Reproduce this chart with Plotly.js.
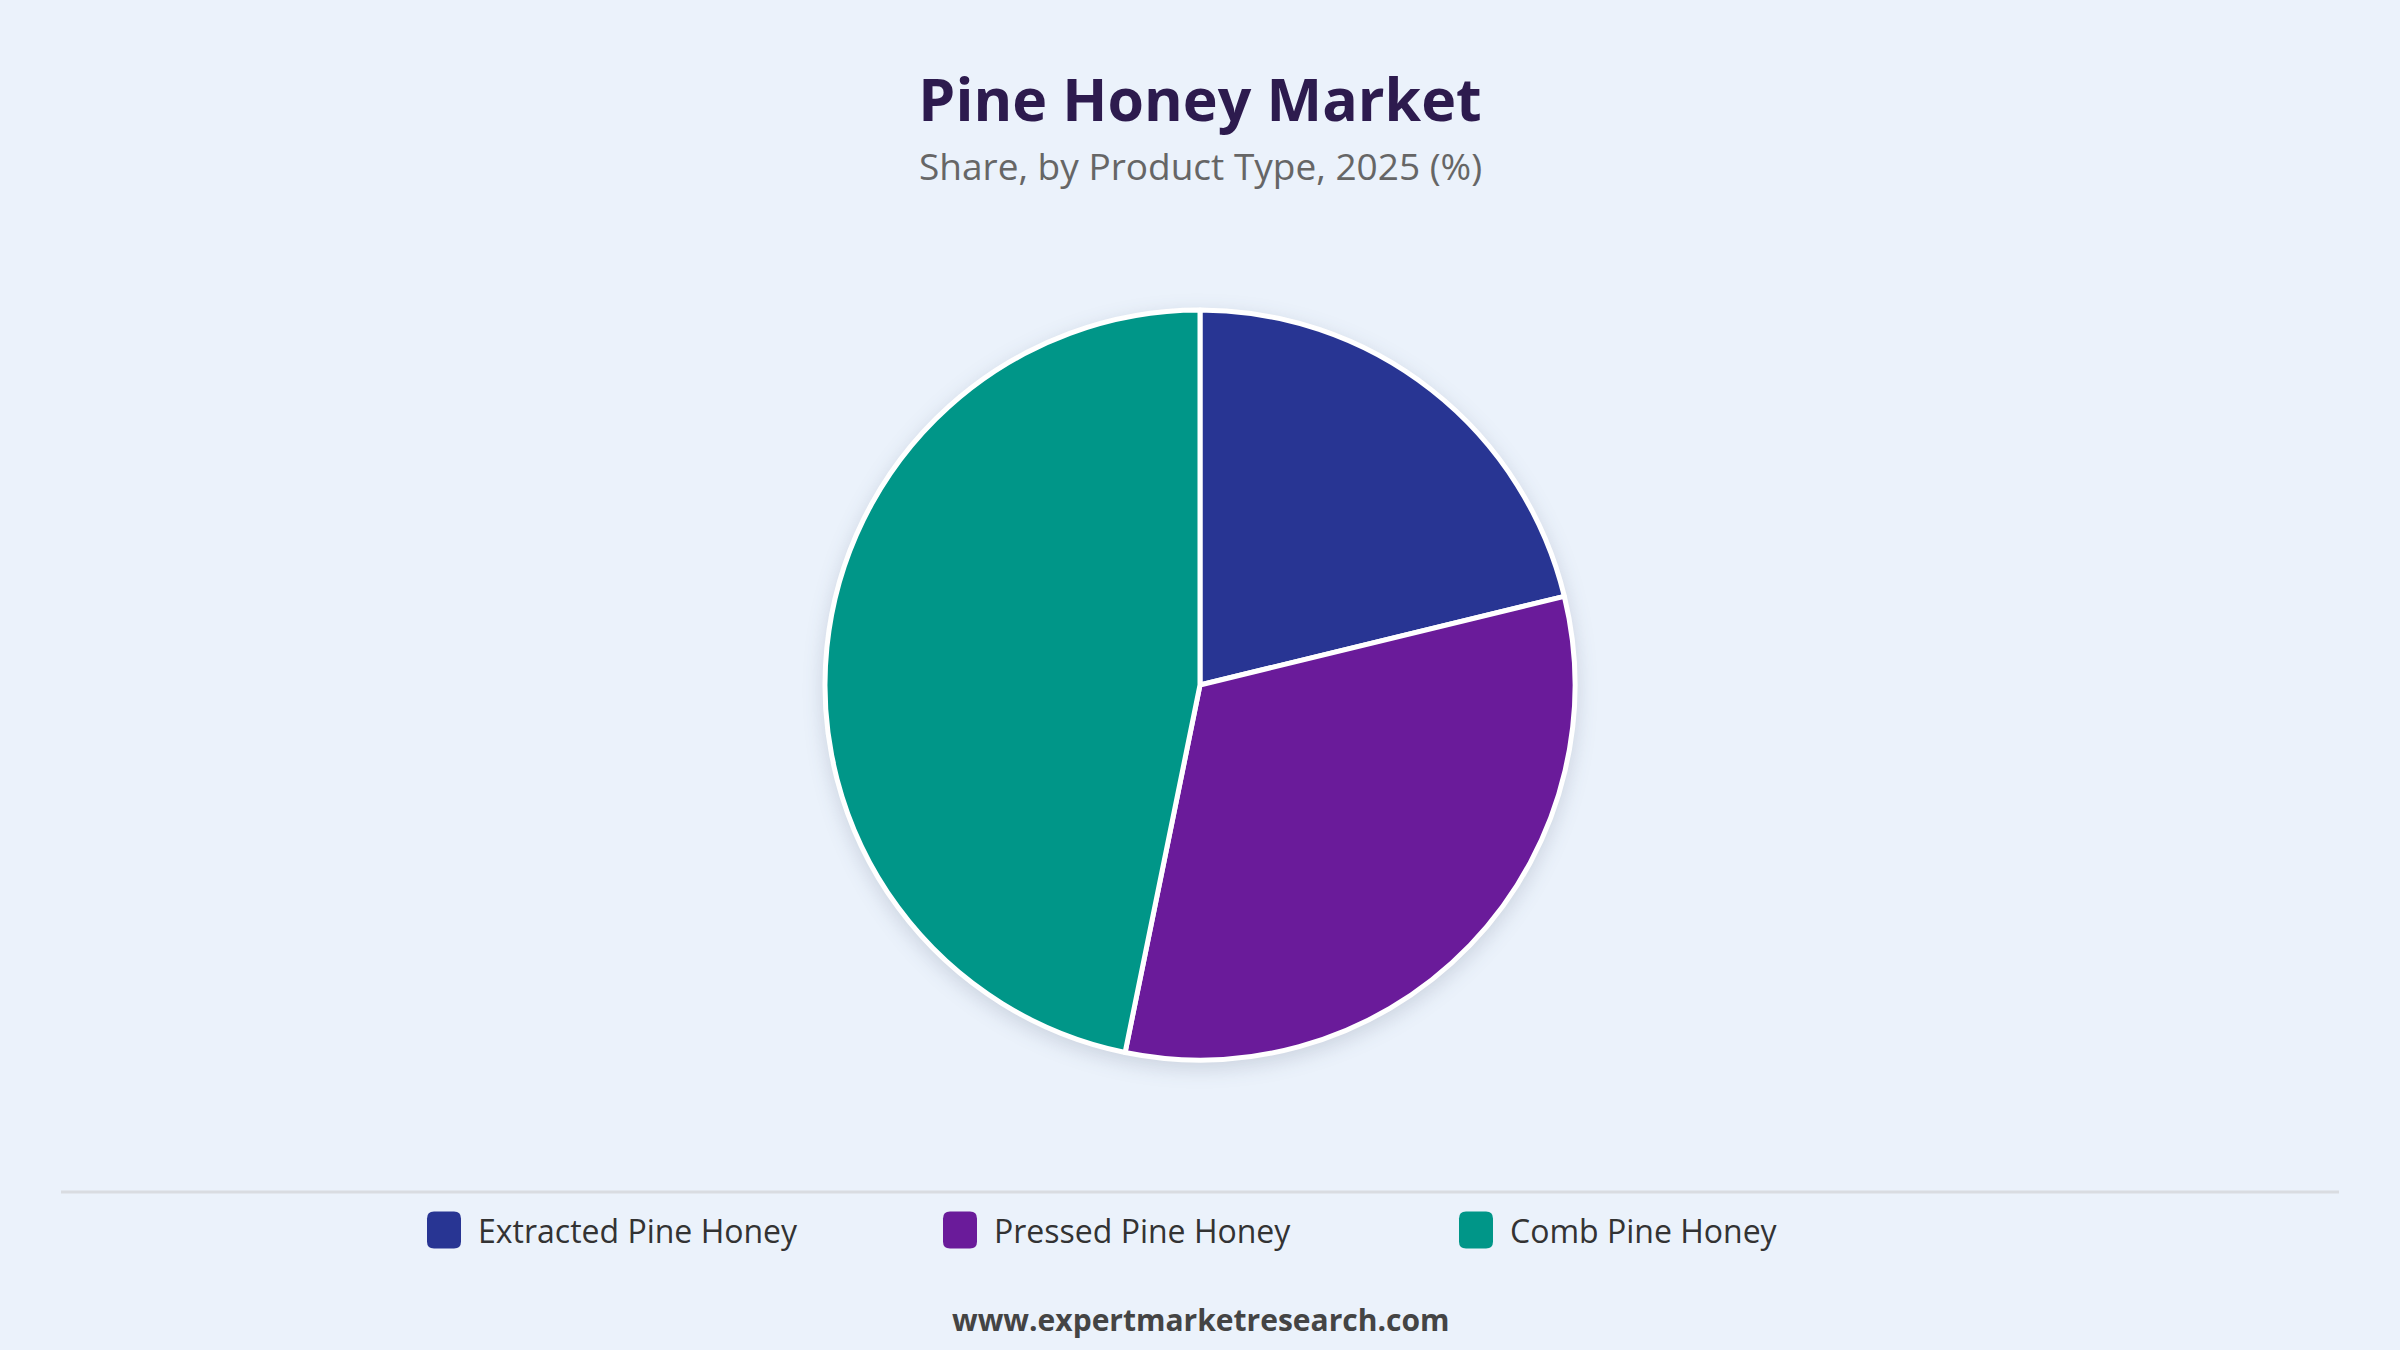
<!DOCTYPE html>
<html>
<head>
<meta charset="utf-8">
<script src="https://cdn.plot.ly/plotly-3.0.1.min.js"></script>
<style>
  html, body { margin: 0; padding: 0; background: #EBF2FB; }
  #chart { width: 2400px; height: 1350px; }
  .pielayer { filter: drop-shadow(0px 6px 10px rgba(40, 50, 80, 0.16)); }
</style>
</head>
<body>
<div id="chart"></div>
<script>
const categories = ["Extracted Pine Honey", "Pressed Pine Honey", "Comb Pine Honey"];
const shares = [21.2, 32.0, 46.8];
const colors = ["#283593", "#6A1B9A", "#009688"];
const titleText = "Pine Honey Market";
const subtitleText = "Share, by Product Type, 2025 (%)";
const footerText = "www.expertmarketresearch.com";

const W = 2400, H = 1350;
const px = x => x / W;
const py = y => 1 - y / H;

// custom legend built from the category and colour arrays
const legendStartX = 427, legendStep = 516, legendY = 1230;
const sw = 34, sh = 37, r = 7;
const shapes = [];
const annotations = [];
categories.forEach((c, i) => {
  const x0 = legendStartX + i * legendStep, x1 = x0 + sw;
  const y0 = legendY - sh / 2, y1 = legendY + sh / 2;
  const p = [
    `M${px(x0 + r)},${py(y0)}`,
    `L${px(x1 - r)},${py(y0)}`,
    `Q${px(x1)},${py(y0)} ${px(x1)},${py(y0 + r)}`,
    `L${px(x1)},${py(y1 - r)}`,
    `Q${px(x1)},${py(y1)} ${px(x1 - r)},${py(y1)}`,
    `L${px(x0 + r)},${py(y1)}`,
    `Q${px(x0)},${py(y1)} ${px(x0)},${py(y1 - r)}`,
    `L${px(x0)},${py(y0 + r)}`,
    `Q${px(x0)},${py(y0)} ${px(x0 + r)},${py(y0)}`,
    "Z"
  ].join(" ");
  shapes.push({type: "path", xref: "paper", yref: "paper", path: p,
               fillcolor: colors[i], line: {width: 0}});
  annotations.push({xref: "paper", yref: "paper", x: px(x1 + 15), y: py(legendY),
                    xanchor: "left", yanchor: "middle", showarrow: false, text: c,
                    font: {family: "Open Sans, sans-serif", size: 32, color: "#333333"}});
});

// separator line
shapes.push({type: "line", xref: "paper", yref: "paper", x0: px(61), x1: px(2339),
             y0: py(1192), y1: py(1192), line: {color: "#D9DCE1", width: 3}});

annotations.push({xref: "paper", yref: "paper", x: 0.5, y: py(166), xanchor: "center", yanchor: "middle",
                  showarrow: false, text: subtitleText,
                  font: {family: "Open Sans, sans-serif", size: 37, weight: 500, color: "#666666"}});
annotations.push({xref: "paper", yref: "paper", x: 0.5, y: py(1319), xanchor: "center", yanchor: "middle",
                  showarrow: false, text: "<b>" + footerText + "</b>",
                  font: {family: "Open Sans, sans-serif", size: 30, color: "#444444"}});

const trace = {
  type: "pie",
  labels: categories,
  values: shares,
  sort: false,
  direction: "clockwise",
  rotation: 0,
  textinfo: "none",
  marker: {colors: colors, line: {color: "#FFFFFF", width: 5}},
  domain: {x: [0, 1], y: [py(1060), py(310)]},
  showlegend: false
};

const layout = {
  width: W, height: H,
  margin: {l: 0, r: 0, t: 0, b: 0},
  paper_bgcolor: "#EBF2FB",
  plot_bgcolor: "#EBF2FB",
  title: {text: "<b>" + titleText + "</b>", x: 0.5, xanchor: "center", y: py(100), yanchor: "middle",
          font: {family: "Open Sans, sans-serif", size: 59, weight: 800, color: "#2D1B4E"}},
  showlegend: false,
  shapes: shapes,
  annotations: annotations
};

Plotly.newPlot("chart", [trace], layout, {displayModeBar: false});
</script>
</body>
</html>
